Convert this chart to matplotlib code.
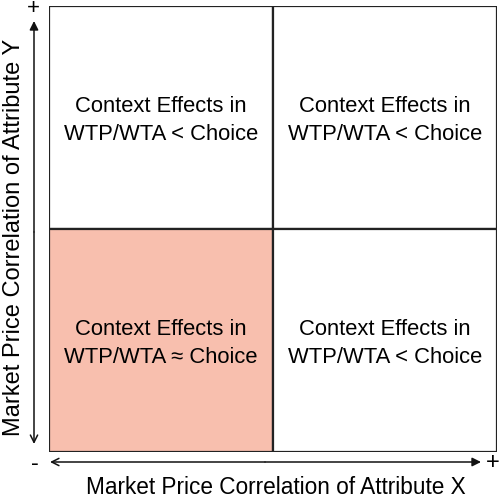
import matplotlib.pyplot as plt
from matplotlib.patches import Rectangle

plt.rcParams["font.family"] = ["Liberation Sans", "DejaVu Sans"]

# quadrant grid: column 0 = low X, column 1 = high X; row 0 = low Y, row 1 = high Y
cols = [0, 1, 0, 1]
rows = [1, 1, 0, 0]
cell_text = [
    "Context Effects in\nWTP/WTA < Choice",
    "Context Effects in\nWTP/WTA < Choice",
    "Context Effects in\nWTP/WTA \u2248 Choice",
    "Context Effects in\nWTP/WTA < Choice",
]
highlight = [False, False, True, False]

x_label = "Market Price Correlation of Attribute X"
y_label = "Market Price Correlation of Attribute Y"

fig = plt.figure(figsize=(5.0, 4.97), dpi=100)
ax = fig.add_axes([0.098, 0.0905, 0.896, 0.897])
ax.set_xlim(0, 2)
ax.set_ylim(0, 2)
ax.set_axis_off()

for c, r, txt, hl in zip(cols, rows, cell_text, highlight):
    ax.add_patch(Rectangle((c, r), 1, 1, facecolor="#F8BFAE" if hl else "white",
                           edgecolor="#222222", linewidth=1.6, zorder=1))
    ax.text(c + 0.5, r + 0.487, txt, ha="center", va="center", fontsize=15.8,
            linespacing=1.42, color="black", zorder=2)

# axis arrows (figure pixels, origin bottom-left)
H = 497
arrow_kw = dict(xycoords="figure pixels", textcoords="figure pixels")
vmid = (34, H - 232)
ax.annotate("", xy=(34, H - 21), xytext=vmid,
            arrowprops=dict(arrowstyle="-|>", color="#111111", lw=1.1,
                            shrinkA=0, shrinkB=0, mutation_scale=13), **arrow_kw)
ax.annotate("", xy=(34, H - 444), xytext=vmid,
            arrowprops=dict(arrowstyle="->", color="#111111", lw=1.1,
                            shrinkA=0, shrinkB=0, mutation_scale=13), **arrow_kw)
hmid = (265, H - 462)
ax.annotate("", xy=(481, H - 462), xytext=hmid,
            arrowprops=dict(arrowstyle="-|>", color="#111111", lw=1.1,
                            shrinkA=0, shrinkB=0, mutation_scale=13), **arrow_kw)
ax.annotate("", xy=(50, H - 462), xytext=hmid,
            arrowprops=dict(arrowstyle="->", color="#111111", lw=1.1,
                            shrinkA=0, shrinkB=0, mutation_scale=13), **arrow_kw)

fig.text(33 / 500, 1 - 9 / H, "+", ha="center", va="center", fontsize=16)
fig.text(35 / 500, 1 - 464 / H, "-", ha="center", va="center", fontsize=17)
fig.text(493 / 500, 1 - 463 / H, "+", ha="center", va="center", fontsize=17)

fig.text(276 / 500, 1 - 487 / H, x_label, ha="center", va="center", fontsize=16.3)
fig.text(14 / 500, 1 - 237 / H, y_label, ha="center", va="center", rotation=90,
         fontsize=17)

fig.savefig("out.png", dpi=100)
